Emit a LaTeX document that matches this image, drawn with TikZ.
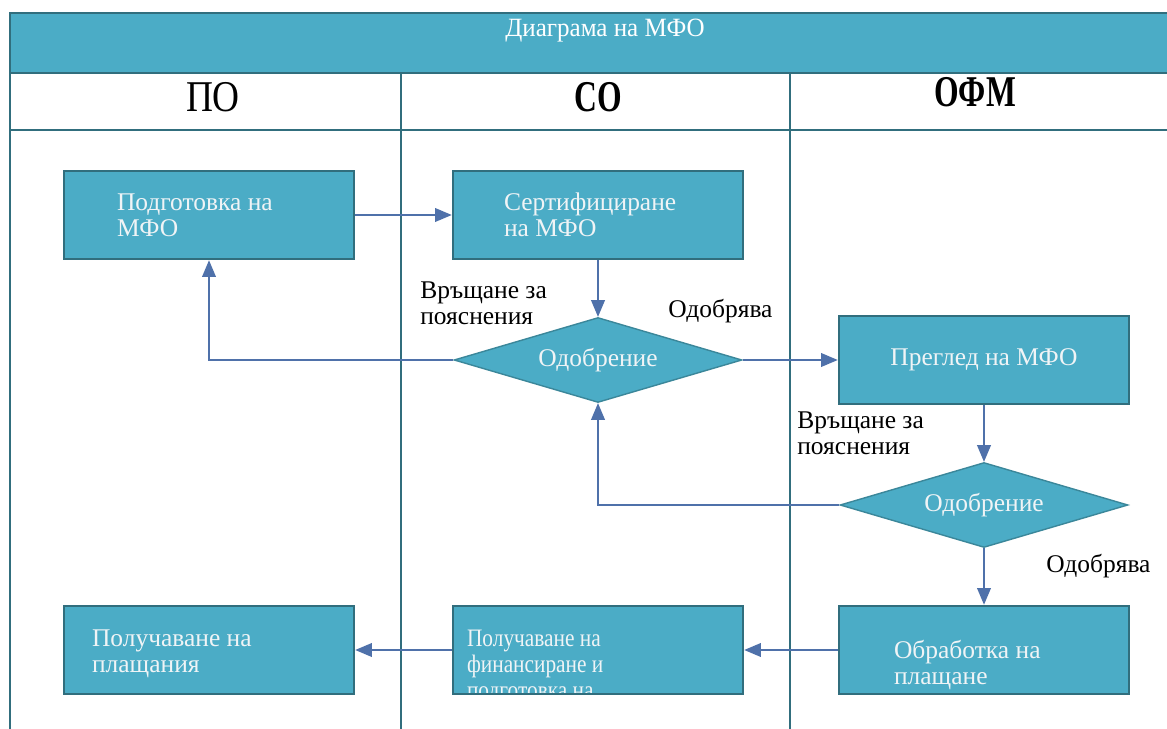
\documentclass[tikz,border=0pt]{standalone}
\usepackage{fontspec}
\setmainfont{Liberation Serif}
\newfontfamily\narrowfont{Liberation Serif}[FakeStretch=0.85]
\newfontfamily\headfont{Liberation Serif}[FakeStretch=0.72]
\newfontfamily\titlefont{Liberation Serif}[FakeStretch=0.95]
\usetikzlibrary{positioning,arrows,shapes.geometric,calc}
\definecolor{lanefill}{RGB}{75,172,198}
\definecolor{laneline}{RGB}{49,110,125}
\definecolor{flowline}{RGB}{79,113,170}
\definecolor{boxtext}{RGB}{240,244,246}
\tikzset{
  process/.style={rectangle, draw=laneline, fill=lanefill, line width=1.5pt,
    minimum width=5.8cm, minimum height=1.76cm, inner sep=0pt, text=boxtext,
    font=\fontsize{14.5}{14.7}\selectfont},
  decision/.style={diamond, draw=laneline!60!lanefill, fill=lanefill, line width=0.8pt,
    minimum width=5.76cm, minimum height=1.7cm, aspect=3.4, inner sep=0pt, text=boxtext,
    font=\fontsize{14.5}{14.7}\selectfont},
  proctext/.style={text=boxtext, align=left, anchor=west, inner sep=0pt,
    font=\fontsize{14.5}{14.7}\selectfont},
  note/.style={align=left, anchor=west, inner sep=0pt, font=\fontsize{14.5}{14.7}\selectfont},
  lanehead/.style={inner sep=0pt, font=\narrowfont\fontsize{25}{25}\selectfont},
  boldhead/.style={inner sep=0pt, font=\headfont\bfseries\fontsize{25}{25}\selectfont},
  flow/.style={draw=flowline, line width=1.2pt, -triangle 45},
  lane/.style={draw=laneline, line width=1.6pt}
}
\begin{document}
\begin{tikzpicture}[x=0.02cm, y=-0.02cm]
  \useasboundingbox (0,0) rectangle (1167,729);
  \clip (0,0) rectangle (1167,729);
  % pool and lanes
  \fill[lanefill] (10,13) rectangle (1180,73);
  \draw[lane] (10,740) -- (10,13) -- (1180,13);
  \draw[lane] (10,73) -- (1180,73);
  \draw[lane] (10,130) -- (1180,130);
  \draw[lane] (401,73) -- (401,740);
  \draw[lane] (790,73) -- (790,740);
  \node[text=white, inner sep=0pt, font=\titlefont\fontsize{15}{15}\selectfont] (title) at (605,31) {Диаграма на МФО};
  \node[lanehead] (po) at (213,97) {ПО};
  \node[boldhead] (co) at (598,97) {СО};
  \node[boldhead] (ofm) at (975,92) {ОФМ};

  % steps
  \node[process] (prep) at (209,215) {};
  \node[process] (cert) at (598,215) {};
  \node[decision] (appr1) at (598,360) {Одобрение};
  \node[process] (review) at (984,360) {Преглед на МФО};
  \node[decision] (appr2) at (984,505) {Одобрение};
  \node[process] (handle) at (984,650) {};
  \node[process] (fund) at (598,650) {};
  \node[process] (recv) at (209,650) {};

  \node[proctext] (prept) at ([xshift=1.08cm]prep.west) {Подготовка на\\МФО};
  \node[proctext] (certt) at ([xshift=1.04cm]cert.west) {Сертифициране\\на МФО};
  \node[proctext] (handlet) at ([xshift=1.12cm,yshift=-0.3cm]handle.west) {Обработка на\\плащане};
  \node[proctext] (recvt) at ([xshift=0.58cm,yshift=-0.08cm]recv.west) {Получаване на\\плащания};
  \begin{scope}
    \clip ([yshift=0.06cm]fund.south west) rectangle (fund.north east);
    \node[proctext, font=\narrowfont\fontsize{14.3}{14.7}\selectfont] (fundt) at ([xshift=0.3cm,yshift=-0.34cm]fund.west) {Получаване на\\финансиране и\\подготовка на};
  \end{scope}

  % labels
  \node[note] (ret1) at (420,303) {Връщане за\\пояснения};
  \node[note] (ok1) at (668,311) {Одобрява};
  \node[note] (ret2) at (797,433) {Връщане за\\пояснения};
  \node[note] (ok2) at (1046,566) {Одобрява};

  % flow
  \draw[flow] (prep) -- (cert);
  \draw[flow] (cert) -- (appr1);
  \draw[flow] (appr1.west) -| (prep.south);
  \draw[flow] (appr1) -- (review);
  \draw[flow] (review) -- (appr2);
  \draw[flow] (appr2.west) -| (appr1.south);
  \draw[flow] (appr2) -- (handle);
  \draw[flow] (handle) -- (fund);
  \draw[flow] (fund) -- (recv);
\end{tikzpicture}
\end{document}
